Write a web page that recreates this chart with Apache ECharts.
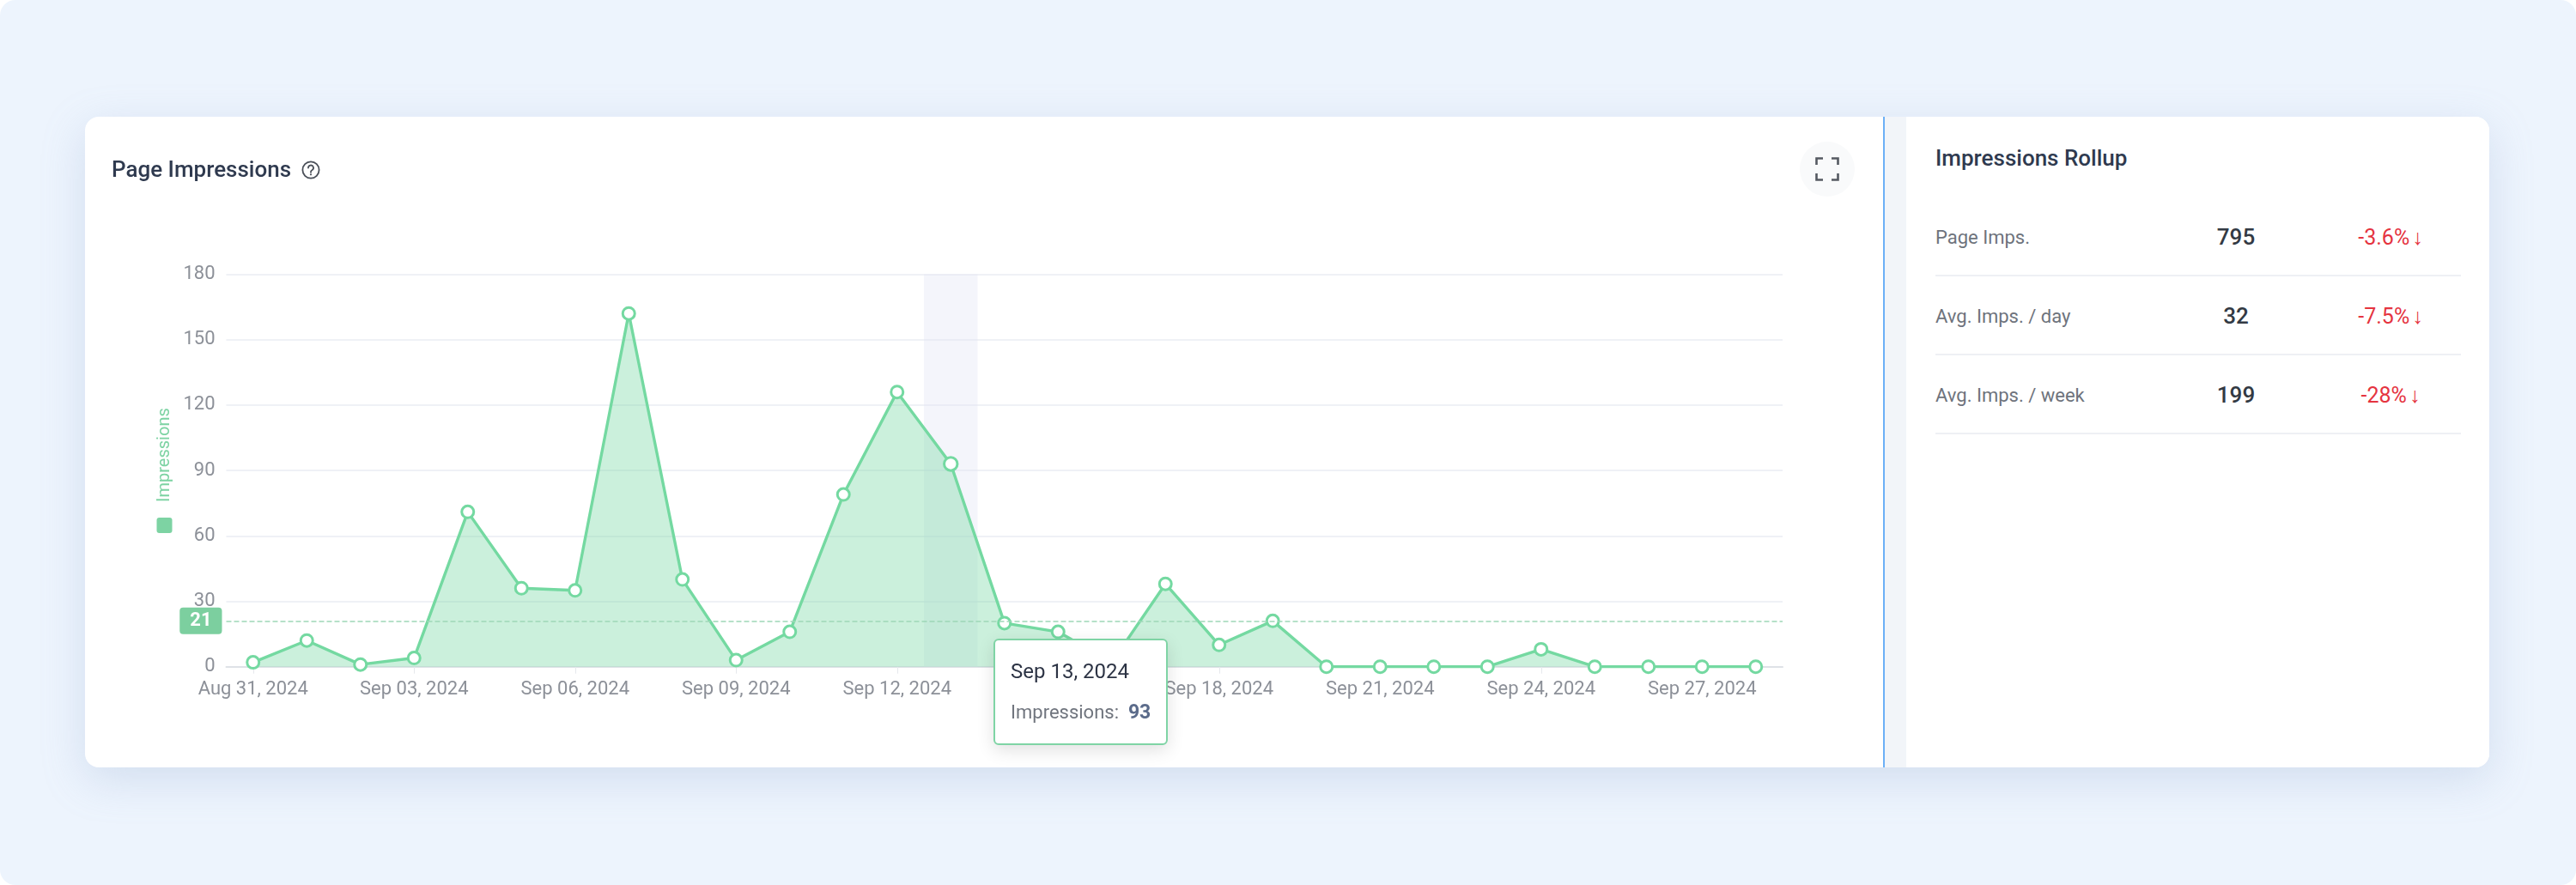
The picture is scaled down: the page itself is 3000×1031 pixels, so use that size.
<!DOCTYPE html>
<html>
<head>
<meta charset="utf-8">
<title>Page Impressions</title>
<script src="https://cdn.jsdelivr.net/npm/echarts@6/dist/echarts.min.js"></script>
<style>
  html, body { margin: 0; padding: 0; width: 3000px; height: 1031px; background: #fff; overflow: hidden; font-family: Roboto, "Noto Sans", sans-serif; }
  .frame { position: absolute; left: 0; top: 0; width: 3000px; height: 1031px; background: #edf4fd; border-radius: 18px; }
  .wrap { position: absolute; left: 99px; top: 136px; width: 2800px; height: 758px; border-radius: 16px; background: #fff; box-shadow: 0 14px 50px rgba(140, 165, 205, 0.28); overflow: hidden; }
  #chart { position: absolute; left: 0; top: 0; width: 2094px; height: 758px; }
  .split { position: absolute; left: 2094px; top: 0; width: 2px; height: 758px; background: #6cb0f7; }
  .gap { position: absolute; left: 2096px; top: 0; width: 25px; height: 758px; background: #f2f5f9; }
  .side { position: absolute; left: 2121px; top: 0; width: 679px; height: 758px; background: #fff; border-radius: 10px 0 0 10px; }
  .title { position: absolute; left: 31px; top: 43px; line-height: 36px; font-size: 26px; font-weight: 500; color: #2f3a4f; z-index: 5; }
  .title svg { vertical-align: -3px; margin-left: 12px; }
  .expand { position: absolute; left: 1997px; top: 29px; width: 64px; height: 64px; border-radius: 32px; background: #f9fafb; z-index: 5; }
  .expand svg { position: absolute; left: 18px; top: 18px; }
  .side h3 { position: absolute; left: 34px; top: 30px; margin: 0; line-height: 36px; font-size: 26px; font-weight: 500; color: #2f3a4f; }
  .row { position: absolute; left: 34px; width: 612px; height: 89px; border-bottom: 2px solid #eef0f4; }
  .row span { position: absolute; top: 0; line-height: 91px; }
  .row .lbl { left: 0; font-size: 22px; color: #6e737c; }
  .row .val { left: 310px; width: 80px; text-align: center; font-size: 26px; font-weight: 500; color: #333a44; }
  .row .chg { left: 470px; width: 120px; text-align: center; font-size: 25px; color: #e5343f; }
</style>
</head>
<body>
<div class="frame"></div>
<div class="wrap">
  <div id="chart"></div>
  <div class="title">Page Impressions<svg width="22" height="22" viewBox="0 0 22 22"><circle cx="11" cy="11" r="9.6" fill="none" stroke="#4a4f58" stroke-width="1.8"/><path d="M8 8.6a3 3 0 1 1 4.4 2.6c-.9.5-1.4 1-1.4 2v.6" fill="none" stroke="#4a4f58" stroke-width="1.8" stroke-linecap="round"/><circle cx="11" cy="16.3" r="1.1" fill="#4a4f58"/></svg></div>
  <div class="expand"><svg width="28" height="28" viewBox="0 0 28 28" fill="none" stroke="#555a62" stroke-width="2.6"><path d="M1.5 9V1.5H9M19 1.5h7.5V9M26.5 19v7.5H19M9 26.5H1.5V19"/></svg></div>
  <div class="split"></div>
  <div class="gap"></div>
  <div class="side">
    <h3>Impressions Rollup</h3>
    <div id="rows"></div>
  </div>
</div>
<script>
// daily page impressions, Aug 31 - Sep 28 2024
var dates = ['Aug 31, 2024', 'Sep 01, 2024', 'Sep 02, 2024', 'Sep 03, 2024', 'Sep 04, 2024', 'Sep 05, 2024',
  'Sep 06, 2024', 'Sep 07, 2024', 'Sep 08, 2024', 'Sep 09, 2024', 'Sep 10, 2024', 'Sep 11, 2024',
  'Sep 12, 2024', 'Sep 13, 2024', 'Sep 14, 2024', 'Sep 15, 2024', 'Sep 16, 2024', 'Sep 17, 2024',
  'Sep 18, 2024', 'Sep 19, 2024', 'Sep 20, 2024', 'Sep 21, 2024', 'Sep 22, 2024', 'Sep 23, 2024',
  'Sep 24, 2024', 'Sep 25, 2024', 'Sep 26, 2024', 'Sep 27, 2024', 'Sep 28, 2024'];
var impressions = [2, 12, 1, 4, 71, 36, 35, 162, 40, 3, 16, 79, 126, 93, 20, 16, 2, 38, 10, 21, 0, 0, 0, 0, 8, 0, 0, 0, 0];
var refLine = 21;
var yTicks = { min: 0, max: 180, interval: 30 };
var tipIndex = 13;

// rollup panel
var rollupLabels = ['Page Imps.', 'Avg. Imps. / day', 'Avg. Imps. / week'];
var rollupValues = ['795', '32', '199'];
var rollupChanges = ['-3.6%', '-7.5%', '-28%'];

var green = '#74d9a1';

var html = '';
rollupLabels.forEach(function (label, i) {
    html += '<div class="row" style="top:' + (95 + i * 92) + 'px">' +
        '<span class="lbl">' + label + '</span>' +
        '<span class="val">' + rollupValues[i] + '</span>' +
        '<span class="chg">' + rollupChanges[i] + '<span style="position:static;margin-left:3px">↓</span></span>' +
        '</div>';
});
document.getElementById('rows').innerHTML = html;

var myChart = echarts.init(document.getElementById('chart'));

var option = {
    animation: false,
    textStyle: { fontFamily: 'Roboto' },
    grid: { left: 164.5, right: 117, top: 183.5, bottom: 117.3 },
    tooltip: {
        trigger: 'axis',
        triggerOn: 'none',
        alwaysShowContent: true,
        transitionDuration: 0,
        backgroundColor: '#fff',
        borderColor: '#7fd4a5',
        borderWidth: 2,
        padding: [18, 18],
        extraCssText: 'border-radius:6px;box-shadow:0 6px 20px rgba(0,0,0,0.12);',
        axisPointer: {
            type: 'shadow',
            z: 1,
            shadowStyle: { color: 'rgba(225, 228, 245, 0.38)' }
        },
        position: function () {
            var p = myChart.convertToPixel({ seriesIndex: 0 }, [tipIndex, 0]);
            return [p[0] + 50, p[1] - 32.5];
        },
        formatter: function (params) {
            var p = params[0];
            return '<div style="font-size:24px;line-height:36px;color:#2c3344">' + p.name + '</div>' +
                '<div style="margin-top:12px;font-size:22px;line-height:36px;color:#70757e">Impressions:&nbsp;&nbsp;' +
                '<b style="color:#5b6b8a;font-size:23px">' + p.value + '</b></div>';
        }
    },
    xAxis: {
        type: 'category',
        data: dates,
        boundaryGap: true,
        axisLine: { lineStyle: { color: '#dfe2e7', width: 2 } },
        axisTick: { show: true, alignWithLabel: true, interval: 2, length: 8, lineStyle: { color: '#e6e8ec' } },
        axisLabel: { interval: 2, color: '#8c9098', fontSize: 22, margin: 16 }
    },
    yAxis: {
        type: 'value',
        min: yTicks.min,
        max: yTicks.max,
        interval: yTicks.interval,
        name: '{sq| }{sp| }Impressions',
        nameLocation: 'middle',
        nameRotate: 90,
        nameGap: 62,
        nameTextStyle: {
            color: '#7dd3a3',
            fontSize: 20,
            rich: {
                sq: { width: 18, height: 18, backgroundColor: '#7dd3a3', borderRadius: 3 },
                sp: { width: 18 }
            }
        },
        axisLine: { show: false },
        axisTick: { show: false },
        axisLabel: { color: '#8c9098', fontSize: 22, margin: 13 },
        splitLine: { lineStyle: { color: '#eff1f6', width: 2 } }
    },
    series: [{
        name: 'Impressions',
        type: 'line',
        data: impressions,
        symbol: 'circle',
        symbolSize: 14,
        itemStyle: { color: '#fff', borderColor: green, borderWidth: 3 },
        lineStyle: { color: green, width: 3.4 },
        areaStyle: { color: 'rgba(125, 218, 168, 0.4)', opacity: 1 },
        emphasis: { disabled: true },
        z: 3,
        markLine: {
            silent: true,
            symbol: 'none',
            lineStyle: { type: 'dashed', color: '#9fd8b8', width: 1.5 },
            label: {
                position: 'start',
                formatter: String(refLine),
                color: '#fff',
                fontWeight: 'bold',
                fontSize: 22,
                backgroundColor: '#7ccf9f',
                padding: [5, 12, 4, 12],
                borderRadius: 4
            },
            data: [{ yAxis: refLine }]
        }
    }]
};

myChart.setOption(option);
myChart.dispatchAction({ type: 'showTip', seriesIndex: 0, dataIndex: tipIndex });
</script>
</body>
</html>
